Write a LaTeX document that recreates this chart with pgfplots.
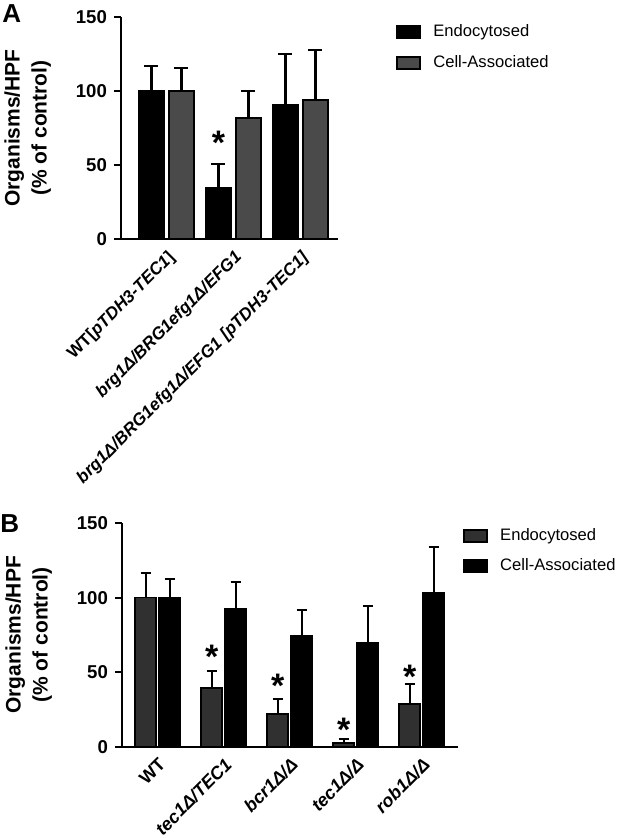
\documentclass[border=0pt]{standalone}
\usepackage{fontspec}
\setmainfont{Liberation Sans}
\usepackage{pgfplots}
\pgfplotsset{compat=1.18}

\definecolor{cellgray}{HTML}{4A4A4A}
\definecolor{endogray}{HTML}{303030}

\pgfplotsset{
  panel/.style={
    ybar, scale only axis, axis lines*=left, clip=false,
    axis line style={line width=1.1pt, black},
    ymin=0, ymax=150, ytick={0,50,100,150},
    tick align=outside, major tick length=3.5pt,
    ytick style={line width=1.1pt, black},
    xtick style={draw=none},
    /pgf/number format/assume math mode=true,
    yticklabel style={font=\bfseries\fontsize{9.3}{11}\selectfont},
    xticklabel style={rotate=45, anchor=north east, inner sep=1pt},
    ylabel={Organisms/HPF\\(\% of control)},
    ylabel style={align=center, anchor=south,
      font=\bfseries\fontsize{10.5}{13.5}\selectfont},
    legend style={draw=none, fill=none, anchor=north west, row sep=3.8pt,
      font=\fontsize{8.3}{10}\selectfont,
      /tikz/every odd column/.append style={column sep=4pt}},
    legend cell align=left,
    legend image code/.code={\draw[#1, line width=0.9pt] (0pt,-3pt) rectangle (11.5pt,3pt);},
  },
  errA/.style={error bars/.cd, y dir=plus, y explicit,
    error bar style={line width=1.1pt, black},
    error mark options={rotate=90, mark size=3.5pt, line width=1.1pt, black}},
  errB/.style={error bars/.cd, y dir=plus, y explicit,
    error bar style={line width=1.1pt, black},
    error mark options={rotate=90, mark size=2.5pt, line width=1.1pt, black}},
  star/.style={draw=none, fill=none, bar width=0pt, forget plot,
    nodes near coords={*},
    nodes near coords style={anchor=base, inner sep=0pt,
      font=\bfseries\fontsize{17}{17}\selectfont}},
}

\begin{document}
\begin{tikzpicture}
\useasboundingbox (0,0) rectangle (312.5pt,-419pt);

% panel A
\begin{axis}[panel,
  at={(60.5pt,-119.5pt)}, anchor=south west,
  width=108.5pt, height=111pt,
  xmin=-0.679, xmax=2.56,
  xtick={0,1,2},
  xticklabel style={font=\bfseries\fontsize{8.6}{10}\selectfont},
  xticklabels={{WT[\textit{pTDH3-TEC1}]},
    {\textit{brg1Δ/BRG1efg1Δ/EFG1}},
    {\textit{brg1Δ/BRG1efg1Δ/EFG1 [pTDH3-TEC1]}}},
  ylabel style={at={(axis description cs:-0.29,0.5)}},
  legend style={at={(axis description cs:1.24,1.004)}},
]
\addplot[bar width=12.8pt, bar shift=-7.5pt, fill=black, draw=black,
  line width=0.9pt, errA]
  coordinates {(0,100) +- (0,17) (1,34.7) +- (0,15.8) (2,90.3) +- (0,34.5)};
\addlegendentry{Endocytosed}
\addplot[bar width=12.8pt, bar shift=7.5pt, fill=cellgray, draw=black,
  line width=0.9pt, errA]
  coordinates {(0,100) +- (0,15.5) (1,82) +- (0,18) (2,94) +- (0,33.7)};
\addlegendentry{Cell-Associated}
\addplot[star, bar shift=-7.5pt] coordinates {(1,57)};
\end{axis}

% panel B
\begin{axis}[panel,
  at={(61pt,-373.3pt)}, anchor=south west,
  width=168pt, height=111.7pt,
  xmin=-0.54, xmax=4.55,
  xtick={0,1,2,3,4},
  xticklabel style={font=\bfseries\fontsize{9}{10}\selectfont},
  xticklabels={WT, \textit{tec1Δ/TEC1}, \textit{bcr1Δ/Δ}, \textit{tec1Δ/Δ}, \textit{rob1Δ/Δ}},
  ylabel style={at={(axis description cs:-0.187,0.5)}},
  legend style={at={(axis description cs:0.997,1.015)}},
]
\addplot[bar width=10.5pt, bar shift=-6pt, fill=endogray, draw=black,
  line width=0.8pt, errB]
  coordinates {(0,100) +- (0,16.8) (1,39.2) +- (0,11.8) (2,21.7) +- (0,10.1)
               (3,2.3) +- (0,2.7) (4,28.7) +- (0,13.4)};
\addlegendentry{Endocytosed}
\addplot[bar width=10.5pt, bar shift=6pt, fill=black, draw=black,
  line width=0.8pt, errB]
  coordinates {(0,100) +- (0,12.5) (1,92.2) +- (0,18.5) (2,74.5) +- (0,17.2)
               (3,69.8) +- (0,24.6) (4,103.4) +- (0,30.4)};
\addlegendentry{Cell-Associated}
\addplot[star, bar shift=-6pt]
  coordinates {(1,52.3) (2,33.3) (3,3.1) (4,38.9)};
\end{axis}

\node[anchor=north west, inner sep=0pt, font=\bfseries\fontsize{13}{13}\selectfont] at (1pt,-2pt) {A};
\node[anchor=north west, inner sep=0pt, font=\bfseries\fontsize{13}{13}\selectfont] at (0pt,-257pt) {B};
\end{tikzpicture}
\end{document}
